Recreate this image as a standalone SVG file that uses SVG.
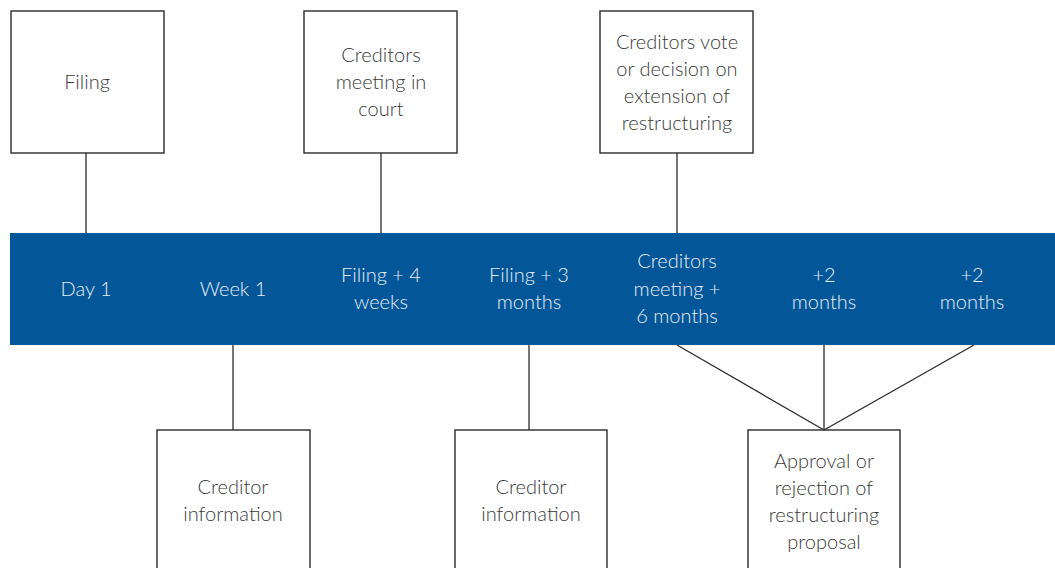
<svg xmlns="http://www.w3.org/2000/svg" width="1055" height="568" viewBox="0 0 1055 568">
<style>
.box{fill:#fff;stroke:#2b2b2b;stroke-width:1.4}
.ln{stroke:#2b2b2b;stroke-width:1.3;fill:none}
.t{font-family:Lato,"Open Sans","Liberation Sans",sans-serif;font-weight:300;font-size:20px;fill:#3a3a3a;text-anchor:middle}
.w{fill:#e6edf5}
</style>
<rect width="1055" height="568" fill="#fff"/>
<g id="connectors">
<line class="ln" x1="86" y1="153" x2="86" y2="233"/>
<line class="ln" x1="381" y1="153" x2="381" y2="233"/>
<line class="ln" x1="677" y1="153" x2="677" y2="233"/>
<line class="ln" x1="233" y1="345" x2="233" y2="430"/>
<line class="ln" x1="529" y1="345" x2="529" y2="430"/>
<line class="ln" x1="677" y1="345" x2="824" y2="430"/>
<line class="ln" x1="824" y1="345" x2="824" y2="430"/>
<line class="ln" x1="974" y1="345" x2="824" y2="430"/>
</g>
<g id="band">
<rect x="10" y="233" width="1045" height="112" fill="#035799"/>
<text class="t w" x="86" y="296">Day 1</text>
<text class="t w" x="233" y="296">Week 1</text>
<text class="t w" x="381" y="282">Filing + 4<tspan x="381" dy="27">weeks</tspan></text>
<text class="t w" x="529" y="282">Filing + 3<tspan x="529" dy="27">months</tspan></text>
<text class="t w" x="677" y="268">Creditors<tspan x="677" dy="28">meeting +</tspan><tspan x="677" dy="27">6 months</tspan></text>
<text class="t w" x="824" y="282">+2<tspan x="824" dy="27">months</tspan></text>
<text class="t w" x="972" y="282">+2<tspan x="972" dy="27">months</tspan></text>
</g>
<g id="n-filing">
<rect class="box" x="11" y="11" width="153" height="142"/>
<text class="t" x="87" y="89">Filing</text>
</g>
<g id="n-meeting">
<rect class="box" x="304" y="11" width="153" height="142"/>
<text class="t" x="381" y="62">Creditors<tspan x="381" dy="27">meeting in</tspan><tspan x="381" dy="27">court</tspan></text>
</g>
<g id="n-vote">
<rect class="box" x="600" y="11" width="153" height="142"/>
<text class="t" x="677" y="49">Creditors vote<tspan x="677" dy="27">or decision on</tspan><tspan x="677" dy="27">extension of</tspan><tspan x="677" dy="27">restructuring</tspan></text>
</g>
<g id="n-info1">
<rect class="box" x="157" y="430" width="153" height="150"/>
<text class="t" x="233" y="494">Creditor<tspan x="233" dy="27">information</tspan></text>
</g>
<g id="n-info2">
<rect class="box" x="455" y="430" width="152" height="150"/>
<text class="t" x="531" y="494">Creditor<tspan x="531" dy="27">information</tspan></text>
</g>
<g id="n-approval">
<rect class="box" x="748" y="430" width="152" height="150"/>
<text class="t" x="824" y="468">Approval or<tspan x="824" dy="27">rejection of</tspan><tspan x="824" dy="27">restructuring</tspan><tspan x="824" dy="27">proposal</tspan></text>
</g>
</svg>
